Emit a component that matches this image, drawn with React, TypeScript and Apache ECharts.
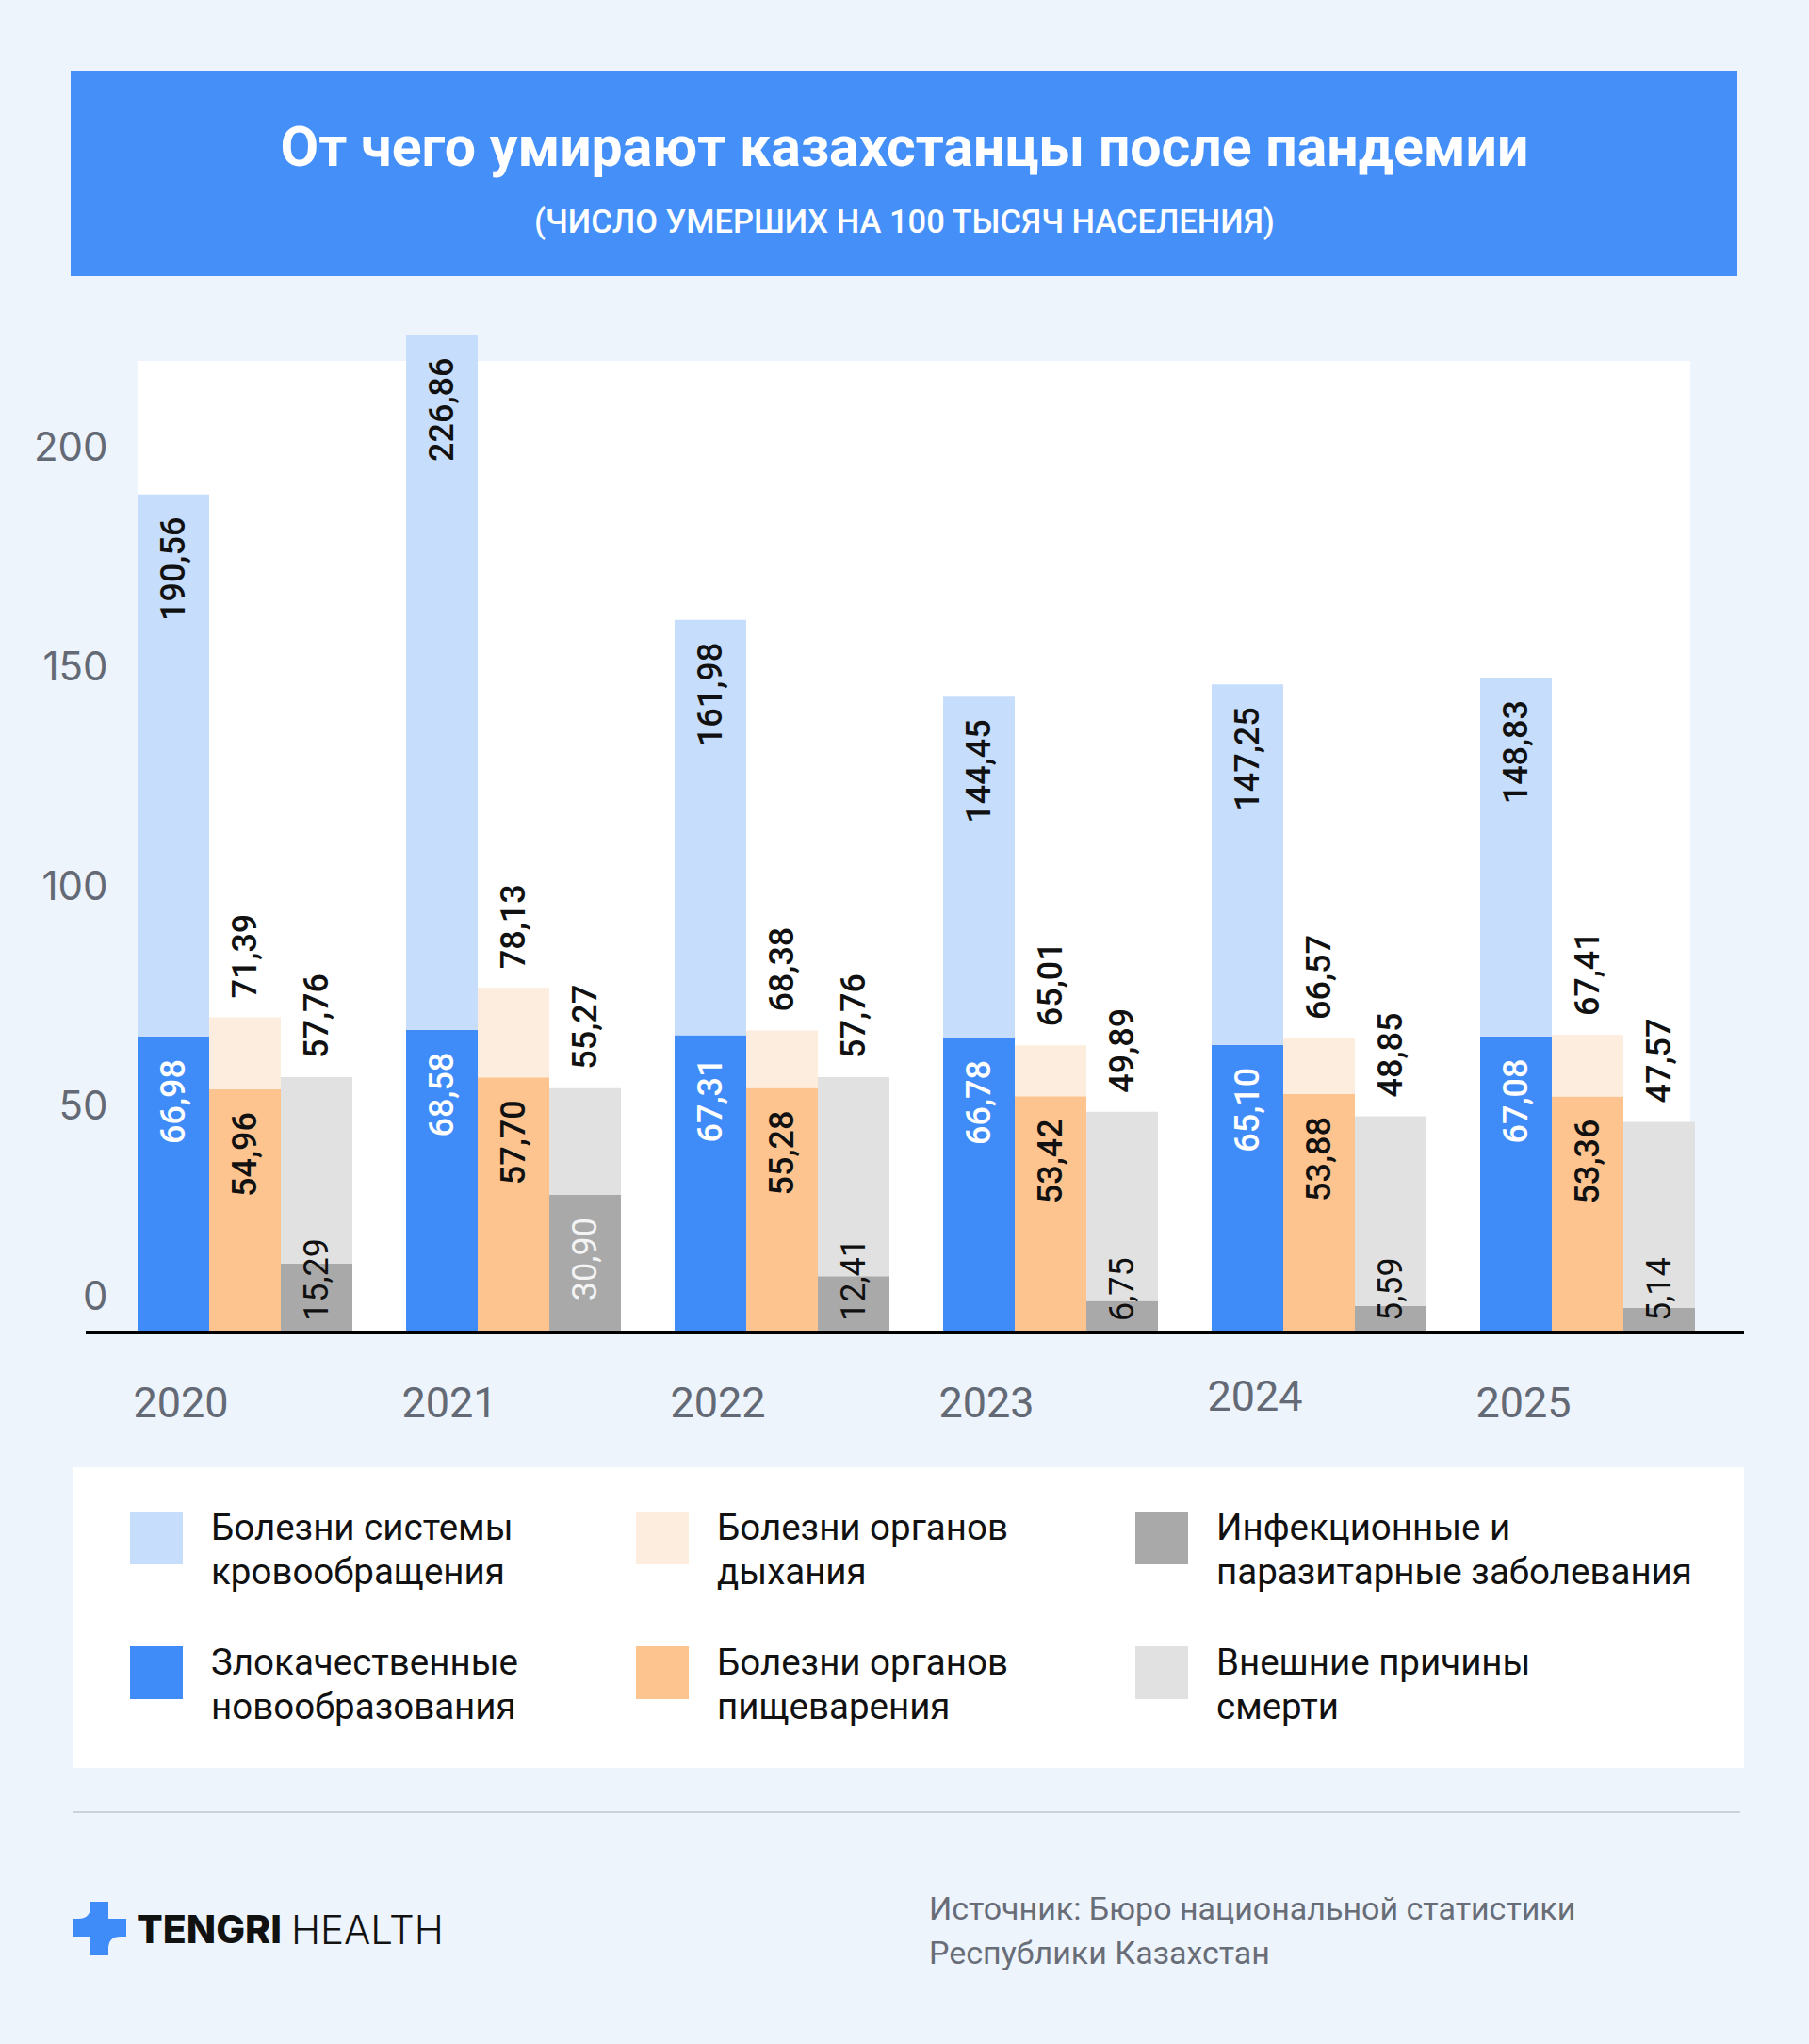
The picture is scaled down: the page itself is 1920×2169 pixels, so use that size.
import React, { useEffect, useRef } from 'react';
import * as echarts from 'echarts';

const years = ['2020', '2021', '2022', '2023', '2024', '2025'];
const circulatory = [190.56, 226.86, 161.98, 144.45, 147.25, 148.83];
const malignant = [66.98, 68.58, 67.31, 66.78, 65.1, 67.08];
const respiratory = [71.39, 78.13, 68.38, 65.01, 66.57, 67.41];
const digestive = [54.96, 57.7, 55.28, 53.42, 53.88, 53.36];
const external = [57.76, 55.27, 57.76, 49.89, 48.85, 47.57];
const infectious = [15.29, 30.9, 12.41, 6.75, 5.59, 5.14];

const names = {
  circ: 'Болезни системы кровообращения',
  mal: 'Злокачественные новообразования',
  resp: 'Болезни органов дыхания',
  dig: 'Болезни органов пищеварения',
  inf: 'Инфекционные и паразитарные заболевания',
  ext: 'Внешние причины смерти',
};
const legendLines: Record<string, string[]> = {
  [names.circ]: ['Болезни системы', 'кровообращения'],
  [names.mal]: ['Злокачественные', 'новообразования'],
  [names.resp]: ['Болезни органов', 'дыхания'],
  [names.dig]: ['Болезни органов', 'пищеварения'],
  [names.inf]: ['Инфекционные и', 'паразитарные заболевания'],
  [names.ext]: ['Внешние причины', 'смерти'],
};

const C = {
  bg: '#EEF4FC',
  banner: '#4490F8',
  blue: '#3F8CF9',
  lightBlue: '#C6DDFC',
  orange: '#FDC48F',
  peach: '#FDEDDE',
  darkGray: '#A9A9A9',
  lightGray: '#E1E1E1',
  axisText: '#646A75',
  ink: '#111111',
};

echarts.graphic.registerShape(
  'tengriLogo',
  echarts.graphic.extendPath(
    'M19 0H38V37H0V18H6Q19 18 19 5Z M38 57H19V18H57V37H51Q38 37 38 50Z',
    {}
  )
);

const fmt = (v: number) => v.toFixed(2).replace('.', ',');

const labelFont = { fontSize: 36, fontWeight: 500, fontFamily: 'Roboto' };

const insideTop = (arr: number[], color: string) => ({
  show: true,
  position: 'insideTop',
  distance: 24,
  rotate: 90,
  align: 'right',
  verticalAlign: 'middle',
  color,
  ...labelFont,
  formatter: (p: any) => fmt(arr[p.dataIndex]),
});

const outsideTop = (arr: number[]) => ({
  show: true,
  position: 'top',
  distance: 20,
  rotate: 90,
  align: 'left',
  verticalAlign: 'middle',
  color: C.ink,
  ...labelFont,
  formatter: (p: any) => fmt(arr[p.dataIndex]),
});

const barCommon = {
  type: 'bar',
  barGap: '0%',
  barCategoryGap: '20%',
  emphasis: { disabled: true },
};

export default function App() {
  const ref = useRef<HTMLDivElement>(null);
  useEffect(() => {
    if (!ref.current) return;
    const chart = echarts.init(ref.current, null, { renderer: 'svg' });
    const legendCommon = {
      orient: 'vertical',
      top: 1573,
      padding: 0,
      itemWidth: 56,
      itemHeight: 56,
      itemGap: 25,
      icon: 'rect',
      selectedMode: false,
      formatter: (n: string) => {
        const l = legendLines[n] || [n, ''];
        return '{g| }\n{t|' + l[0] + '}\n{t|' + l[1] + '}';
      },
      textStyle: {
        fontSize: 38.5,
        lineHeight: 47,
        color: C.ink,
        fontFamily: 'Roboto',
        padding: [0, 0, 0, 25],
        rich: {
          g: { fontSize: 2, lineHeight: 24 },
          t: { fontSize: 38.5, lineHeight: 47, color: C.ink, fontFamily: 'Roboto' },
        },
      },
    };
    chart.setOption({
      animation: false,
      backgroundColor: C.bg,
      grid: { left: 117.5, right: 92.5, top: 341, bottom: 2169 - 1412, containLabel: false },
      xAxis: {
        type: 'category',
        data: years,
        axisLine: { show: false },
        axisTick: { show: false },
        axisLabel: {
          margin: 49,
          color: C.axisText,
          fontSize: 45,
          fontFamily: 'Roboto',
          formatter: (v: string) => (v === '2024' ? '{b|' + v + '}' : '{a|' + v + '}'),
          rich: {
            a: { fontSize: 45, fontFamily: 'Roboto', color: C.axisText, lineHeight: 54, padding: [0, 136, 0, 0] },
            b: { fontSize: 45, fontFamily: 'Roboto', color: C.axisText, lineHeight: 40, padding: [0, 136, 0, 0] },
          },
        },
      },
      yAxis: {
        type: 'value',
        min: 0,
        max: 230,
        interval: 50,
        splitLine: { show: false },
        axisLine: { show: false },
        axisTick: { show: false },
        axisLabel: {
          margin: 3,
          showMaxLabel: false,
          color: C.axisText,
          fontSize: 42,
          fontFamily: 'Inter',
          formatter: (v: number) => (v === 0 ? '{z|0}' : '{n|' + v + '}'),
          rich: {
            n: { fontSize: 42, fontFamily: 'Inter', color: C.axisText, padding: [0, 0, 14, 0] },
            z: { fontSize: 42, fontFamily: 'Inter', color: C.axisText, padding: [0, 0, 76, 0] },
          },
        },
      },
      legend: [
        { ...legendCommon, left: 138, data: [names.circ, names.mal] },
        { ...legendCommon, left: 675, data: [names.resp, names.dig] },
        { ...legendCommon, left: 1205, data: [names.inf, names.ext] },
      ],
      series: [
        {
          ...barCommon,
          name: names.mal,
          stack: 'blue',
          data: malignant,
          itemStyle: { color: C.blue },
          label: insideTop(malignant, '#FFFFFF'),
        },
        {
          ...barCommon,
          name: names.circ,
          stack: 'blue',
          data: circulatory.map((v, i) => v - malignant[i]),
          itemStyle: { color: C.lightBlue },
          label: insideTop(circulatory, C.ink),
        },
        {
          ...barCommon,
          name: names.dig,
          stack: 'peach',
          data: digestive,
          itemStyle: { color: C.orange },
          label: insideTop(digestive, C.ink),
        },
        {
          ...barCommon,
          name: names.resp,
          stack: 'peach',
          data: respiratory.map((v, i) => v - digestive[i]),
          itemStyle: { color: C.peach },
          label: outsideTop(respiratory),
        },
        {
          ...barCommon,
          name: names.inf,
          stack: 'gray',
          data: infectious.map((v) =>
            v < 26
              ? {
                  value: v,
                  label: { position: 'insideBottom', align: 'left', distance: 10, color: C.ink },
                }
              : v
          ),
          itemStyle: { color: C.darkGray },
          label: { ...insideTop(infectious, '#F4F4F4'), fontWeight: 400 },
        },
        {
          ...barCommon,
          name: names.ext,
          stack: 'gray',
          data: external.map((v, i) => v - infectious[i]),
          itemStyle: { color: C.lightGray },
          label: outsideTop(external),
        },
      ],
      graphic: [
        { type: 'rect', z: -10, shape: { x: 75, y: 75, width: 1769, height: 218 }, style: { fill: C.banner } },
        {
          type: 'text',
          z: 10,
          x: 960,
          y: 155,
          style: {
            text: 'От чего умирают казахстанцы после пандемии',
            fontSize: 59,
            fontWeight: 'bold',
            fontFamily: 'Roboto',
            fill: '#FFFFFF',
            align: 'center',
            verticalAlign: 'middle',
          },
        },
        {
          type: 'text',
          z: 10,
          x: 960,
          y: 235,
          style: {
            text: '(ЧИСЛО УМЕРШИХ НА 100 ТЫСЯЧ НАСЕЛЕНИЯ)',
            fontSize: 34.5,
            fontWeight: 500,
            fontFamily: 'Roboto',
            fill: '#FFFFFF',
            align: 'center',
            verticalAlign: 'middle',
          },
        },
        { type: 'rect', z: -10, shape: { x: 146, y: 383, width: 1648, height: 1029 }, style: { fill: '#FFFFFF' } },
        {
          type: 'line',
          z: 100,
          shape: { x1: 91, y1: 1414, x2: 1851, y2: 1414 },
          style: { stroke: '#000000', lineWidth: 4 },
        },
        { type: 'rect', z: -10, shape: { x: 77, y: 1557, width: 1774, height: 319 }, style: { fill: '#FFFFFF' } },
        {
          type: 'line',
          z: 10,
          shape: { x1: 77, y1: 1923, x2: 1847, y2: 1923 },
          style: { stroke: '#CDD2DA', lineWidth: 2 },
        },
        { type: 'tengriLogo', z: 10, x: 77, y: 2018, style: { fill: C.blue } },
        {
          type: 'text',
          z: 10,
          x: 145,
          y: 2047,
          style: {
            text: 'TENGRI',
            fontSize: 41,
            fontWeight: 800,
            fontFamily: 'Inter',
            fill: C.ink,
            verticalAlign: 'middle',
          },
        },
        {
          type: 'text',
          z: 10,
          x: 309,
          y: 2047,
          style: {
            text: 'HEALTH',
            fontSize: 42,
            fontWeight: 300,
            fontFamily: 'Inter',
            fill: C.ink,
            verticalAlign: 'middle',
          },
        },
        {
          type: 'text',
          z: 10,
          x: 986,
          y: 2001,
          style: {
            text: 'Источник: Бюро национальной статистики\nРеспублики Казахстан',
            fontSize: 34,
            lineHeight: 47,
            fontFamily: 'Roboto',
            fill: '#686D77',
            verticalAlign: 'top',
          },
        },
      ],
    });
    return () => chart.dispose();
  }, []);
  return (
    <div
      ref={ref}
      style={{ position: 'absolute', left: 0, top: 0, width: 1920, height: 2169 }}
    />
  );
}
